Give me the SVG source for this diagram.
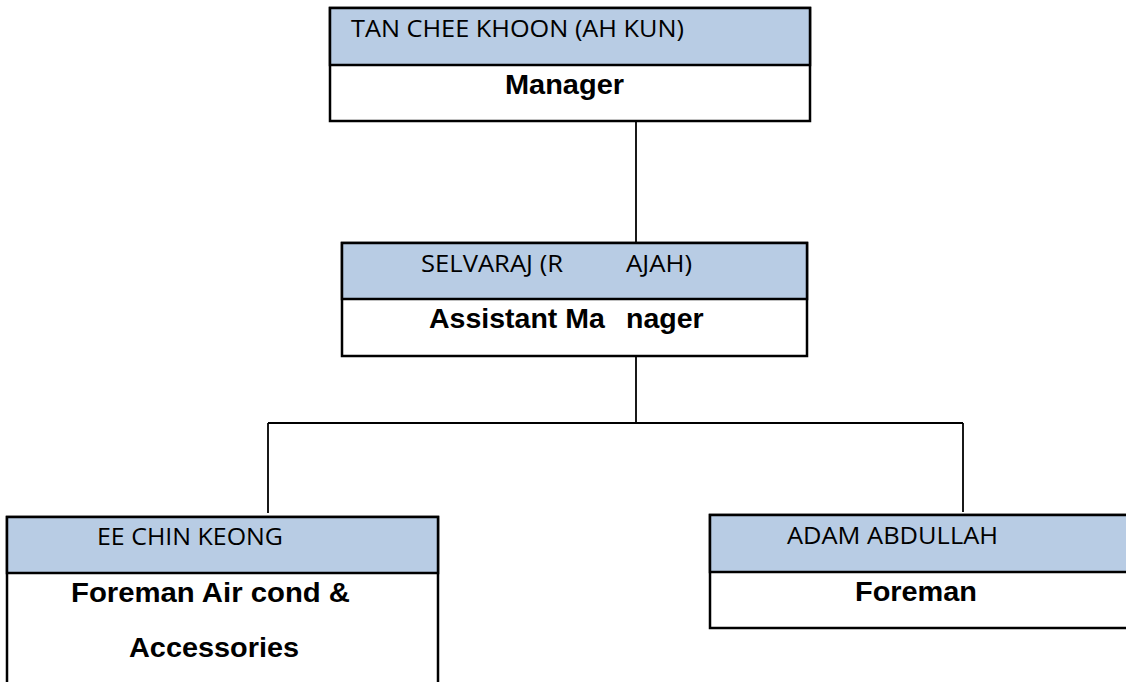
<svg xmlns="http://www.w3.org/2000/svg" width="1126" height="682" viewBox="0 0 1126 682">
<style>
.hd{fill:#b8cce4;stroke:#000;stroke-width:2.5}
.bd{fill:#fff;stroke:#000;stroke-width:2.5}
.nm{font-family:"Open Sans","Liberation Sans",sans-serif;font-size:24px;fill:#000}
.rl{font-family:"Liberation Sans",Arial,sans-serif;font-size:28.5px;font-weight:bold;fill:#000}
.cn{stroke:#000;stroke-width:1.8;fill:none}
</style>
<rect width="1126" height="682" fill="#fff"/>
<g id="connectors">
<path class="cn" d="M636,121 V243"/>
<path class="cn" d="M636,356 V423"/>
<path class="cn" d="M268,423 H963"/>
<path class="cn" d="M268,423 V513"/>
<path class="cn" d="M963,423 V512"/>
</g>
<g id="manager">
<rect class="bd" x="330" y="8" width="480" height="113"/>
<rect class="hd" x="330" y="8" width="480" height="57"/>
<text class="nm" x="351" y="37" textLength="333" lengthAdjust="spacingAndGlyphs">TAN CHEE KHOON (AH KUN)</text>
<text class="rl" x="505" y="94" textLength="119" lengthAdjust="spacingAndGlyphs">Manager</text>
</g>
<g id="assistant-manager">
<rect class="bd" x="342" y="243" width="465" height="113"/>
<rect class="hd" x="342" y="243" width="465" height="56"/>
<text class="nm" x="421" y="272" textLength="142" lengthAdjust="spacingAndGlyphs">SELVARAJ (R</text>
<text class="nm" x="626" y="272" textLength="66" lengthAdjust="spacingAndGlyphs">AJAH)</text>
<text class="rl" x="429" y="328">Assistant Ma</text>
<text class="rl" x="626" y="328">nager</text>
</g>
<g id="foreman-aircond">
<rect class="bd" x="7" y="517" width="431" height="180"/>
<rect class="hd" x="7" y="517" width="431" height="56"/>
<text class="nm" x="97" y="545" textLength="186" lengthAdjust="spacingAndGlyphs">EE CHIN KEONG</text>
<text class="rl" x="71" y="602" textLength="279" lengthAdjust="spacingAndGlyphs">Foreman Air cond &amp;</text>
<text class="rl" x="129" y="657" textLength="170" lengthAdjust="spacingAndGlyphs">Accessories</text>
</g>
<g id="foreman">
<rect class="bd" x="710" y="515" width="430" height="113"/>
<rect class="hd" x="710" y="515" width="430" height="57"/>
<text class="nm" x="787" y="544" textLength="211" lengthAdjust="spacingAndGlyphs">ADAM ABDULLAH</text>
<text class="rl" x="855" y="601" textLength="122" lengthAdjust="spacingAndGlyphs">Foreman</text>
</g>
</svg>
